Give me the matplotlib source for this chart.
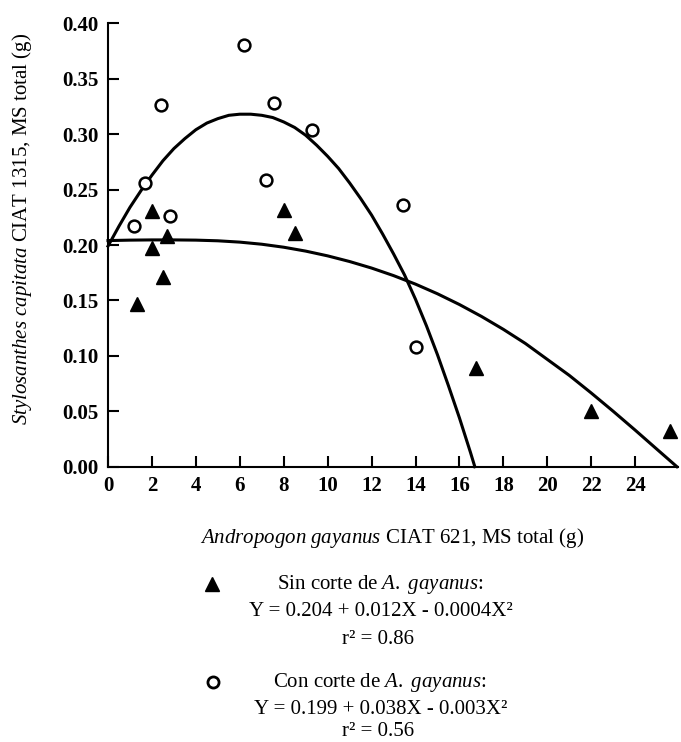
import matplotlib
matplotlib.use("Agg")
import matplotlib.pyplot as plt
from matplotlib.lines import Line2D

plt.rcParams['font.family'] = ['Liberation Serif', 'DejaVu Serif']
plt.rcParams['mathtext.fontset'] = 'custom'
plt.rcParams['mathtext.rm'] = 'Liberation Serif'
plt.rcParams['mathtext.it'] = 'Liberation Serif:italic'

# Sin corte de A. gayanus (filled triangles)
sin_x = [1.3, 2.0, 2.0, 2.5, 2.7, 8.0, 8.5, 16.75, 22.0, 25.6]
sin_y = [0.147, 0.231, 0.197, 0.171, 0.208, 0.232, 0.211, 0.089, 0.050, 0.032]

# Con corte de A. gayanus (open circles)
con_x = [1.2, 1.7, 2.4, 2.8, 6.2, 7.2, 7.55, 9.3, 13.45, 14.0]
con_y = [0.217, 0.256, 0.326, 0.226, 0.380, 0.259, 0.328, 0.304, 0.236, 0.108]

# fitted curves
sin_curve_x = [0, 1, 2, 3, 4, 5, 6, 7, 8, 9, 10, 11, 12, 13, 14, 15, 16,
               17, 18, 19, 20, 21, 22, 23, 24, 25, 25.9]
sin_curve_y = [0.2040, 0.2044, 0.2046, 0.2046, 0.2044, 0.2038, 0.2026, 0.2007,
               0.1980, 0.1945, 0.1902, 0.1851, 0.1792, 0.1724, 0.1647, 0.1560,
               0.1463, 0.1356, 0.1239, 0.1112, 0.0968, 0.0824, 0.0665, 0.0500,
               0.0330, 0.0156, 0.0]

con_curve_x = [0, 0.5, 1, 1.5, 2, 2.5, 3, 3.5, 4, 4.5, 5, 5.5, 6, 6.5, 7,
               7.5, 8, 8.5, 9, 9.5, 10, 10.5, 11, 11.5, 12, 12.5, 13, 13.5,
               14, 14.5, 15, 15.5, 16, 16.5, 16.7]
con_curve_y = [0.199, 0.217, 0.234, 0.249, 0.263, 0.276, 0.287, 0.296, 0.304,
               0.310, 0.314, 0.317, 0.318, 0.318, 0.317, 0.315, 0.311, 0.306,
               0.299, 0.290, 0.280, 0.269, 0.256, 0.242, 0.227, 0.210, 0.192,
               0.173, 0.151, 0.127, 0.101, 0.073, 0.044, 0.013, 0.000]

x_ticks = [0, 2, 4, 6, 8, 10, 12, 14, 16, 18, 20, 22, 24]
y_ticks = [0.00, 0.05, 0.10, 0.15, 0.20, 0.25, 0.30, 0.35, 0.40]

fig = plt.figure(figsize=(6.81, 7.42), dpi=100)
ax = fig.add_axes([0.1586, 0.371, 0.837, 0.5976])

ax.plot(sin_curve_x, sin_curve_y, color='black', lw=2.2, clip_on=False)
ax.plot(con_curve_x, con_curve_y, color='black', lw=2.2, clip_on=False)
ax.plot(sin_x, sin_y, '^', color='black', ms=10, clip_on=False)
ax.plot(con_x, con_y, 'o', mfc='white', mec='black', mew=1.8, ms=8.5, clip_on=False)

ax.set_xlim(0, 25.95)
ax.set_ylim(0, 0.40)
ax.set_xticks(x_ticks)
ax.set_yticks(y_ticks)
ax.set_yticklabels(["%.2f" % v for v in y_ticks])
ax.spines['top'].set_visible(False)
ax.spines['right'].set_visible(False)
ax.spines['left'].set_linewidth(1.5)
ax.spines['bottom'].set_linewidth(1.5)
ax.tick_params(direction='in', length=8, width=1.5, labelsize=15, pad=7)
for lab in ax.get_xticklabels() + ax.get_yticklabels():
    lab.set_fontweight('bold')

fig.text(0.032, 1 - 229 / 742,
         r"$\mathit{Stylosanthes\ capitata}$ CIAT 1315, MS total (g)",
         rotation=90, ha='center', va='center', fontsize=15)
fig.text(392 / 681, 1 - 538 / 742,
         r"$\mathit{Andropogon\ gayanus}$ CIAT 621, MS total (g)",
         ha='center', va='center', fontsize=15)

# legend block
fig.add_artist(Line2D([212 / 681], [1 - 584 / 742], marker='^', color='black',
                      ms=10, transform=fig.transFigure))
fig.text(380 / 681, 1 - 585 / 742, r"Sin corte de $\mathit{A.\ gayanus}$:",
         ha='center', va='center', fontsize=15)
fig.text(381 / 681, 1 - 612 / 742, "Y = 0.204 + 0.012X - 0.0004X²",
         ha='center', va='center', fontsize=15)
fig.text(378 / 681, 1 - 639 / 742, "r² = 0.86",
         ha='center', va='center', fontsize=15)

fig.add_artist(Line2D([213 / 681], [1 - 682 / 742], marker='o', mfc='white',
                      mec='black', mew=2, ms=8, transform=fig.transFigure))
fig.text(380 / 681, 1 - 683 / 742, r"Con corte de $\mathit{A.\ gayanus}$:",
         ha='center', va='center', fontsize=15)
fig.text(381 / 681, 1 - 709 / 742, "Y = 0.199 + 0.038X - 0.003X²",
         ha='center', va='center', fontsize=15)
fig.text(378 / 681, 1 - 732 / 742, "r² = 0.56",
         ha='center', va='center', fontsize=15)

fig.savefig("out.png", dpi=100)
